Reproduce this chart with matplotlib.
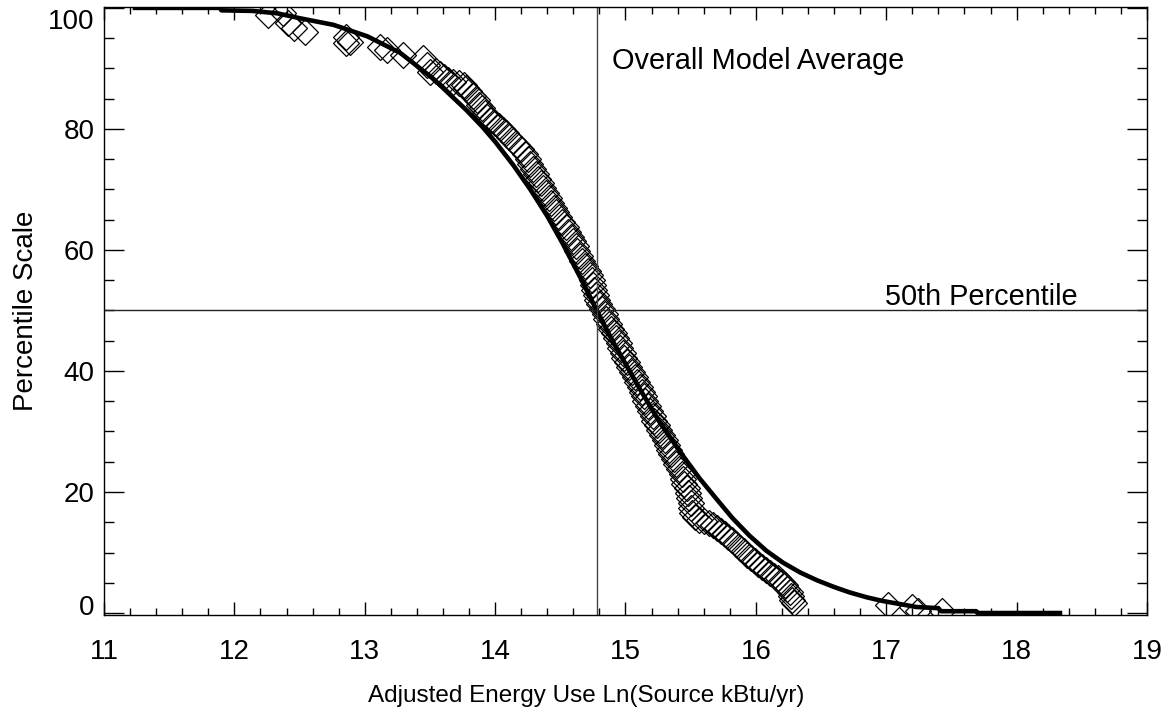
import matplotlib
matplotlib.use("Agg")
import matplotlib.pyplot as plt
import matplotlib.transforms as mtransforms
from matplotlib.ticker import MultipleLocator

plt.rcParams['font.family'] = ['Liberation Sans', 'DejaVu Sans']

# fitted percentile curve
curve_x = [11.22, 11.89, 11.90, 12.14, 12.33, 12.50, 12.76, 13.02, 13.27, 13.52,
           13.78, 13.90, 14.00, 14.14, 14.27, 14.40, 14.52, 14.65, 14.78, 14.90,
           15.01, 15.13, 15.26, 15.44, 15.57, 15.70, 15.82, 15.95, 16.08, 16.21,
           16.34, 16.47, 16.60, 16.72, 16.85, 16.97, 17.10, 17.23, 17.40, 17.42,
           17.69, 17.70, 18.35]
curve_y = [100.0, 100.0, 99.6, 99.5, 99.1, 98.3, 97.2, 95.3, 92.6, 88.4,
           83.1, 80.4, 77.9, 74.0, 70.0, 65.6, 61.0, 55.6, 50.0, 45.0,
           40.8, 36.3, 31.6, 26.0, 22.2, 18.8, 15.7, 12.8, 10.3, 8.3,
           6.7, 5.4, 4.3, 3.4, 2.6, 2.0, 1.5, 1.0, 0.8, 0.3,
           0.3, 0.0, 0.0]

# observed buildings (diamonds)
obs_x = [12.26, 12.37, 12.41, 12.46, 12.54, 12.86, 12.86, 12.89, 13.12, 13.17,
         13.29, 13.45, 13.48, 13.50,
         13.55, 13.58, 13.61, 13.64, 13.68, 13.72, 13.76, 13.78, 13.80,
         13.83, 13.86, 13.88, 13.90, 13.92, 13.94, 13.97,
         14.00, 14.03, 14.06, 14.08, 14.11,
         14.14, 14.17, 14.20, 14.23, 14.25,
         14.27, 14.29, 14.31, 14.33, 14.35,
         14.37, 14.39, 14.41, 14.43, 14.45, 14.47,
         14.49, 14.51, 14.54, 14.56, 14.58, 14.60, 14.62, 14.63,
         14.65, 14.67, 14.69, 14.71, 14.73,
         14.74, 14.75, 14.76, 14.77, 14.78, 14.80, 14.82, 14.84,
         14.85, 14.87, 14.89, 14.91, 14.93, 14.95, 14.96,
         14.98, 14.99, 15.01, 15.03, 15.05,
         15.07, 15.09, 15.11, 15.13,
         15.14, 15.15, 15.17, 15.19,
         15.21, 15.22, 15.24, 15.26,
         15.28, 15.30, 15.32, 15.33,
         15.35, 15.37, 15.39, 15.41,
         15.43, 15.44, 15.45, 15.47, 15.48,
         15.49, 15.50, 15.50, 15.51, 15.53,
         15.56, 15.60, 15.64, 15.67, 15.70,
         15.73, 15.76, 15.79, 15.82,
         15.85, 15.88,
         15.91, 15.93, 15.96,
         15.99, 16.02, 16.05,
         16.08, 16.11, 16.14, 16.17,
         16.20, 16.22, 16.24,
         16.26, 16.27, 16.28, 16.29,
         17.01, 17.20, 17.24, 17.43]
obs_y = [98.8, 99.2, 97.5, 96.7, 96.0, 95.2, 94.2, 94.4, 93.6, 93.1,
         92.2, 91.7, 90.6, 89.4,
         89.6, 89.0, 88.5, 88.1, 87.8, 87.6, 87.3, 86.8, 86.2,
         85.4, 84.8, 84.0, 83.4, 82.7, 81.9, 81.4,
         81.0, 80.5, 79.9, 79.3, 78.6,
         78.0, 77.3, 76.6, 75.8, 75.0,
         74.2, 73.4, 72.6, 71.8, 71.0,
         70.2, 69.4, 68.6, 67.8, 67.0, 66.2,
         65.4, 64.6, 63.8, 63.0, 62.2, 61.4, 60.6, 59.8,
         59.0, 58.2, 57.4, 56.6, 55.8,
         55.0, 54.2, 53.4, 52.6, 51.8, 51.0, 50.2, 49.4,
         48.6, 47.8, 47.0, 46.2, 45.4, 44.6, 43.8,
         43.0, 42.2, 41.4, 40.6, 39.8,
         39.0, 38.2, 37.4, 36.6,
         35.8, 35.0, 34.2, 33.4,
         32.6, 31.8, 31.0, 30.2,
         29.4, 28.6, 27.8, 27.0,
         26.2, 25.4, 24.6, 23.8,
         23.0, 22.2, 21.4, 20.6, 19.8,
         19.0, 18.2, 17.4, 16.6, 15.8,
         15.4, 15.2, 14.8, 14.5, 14.1,
         13.6, 13.1, 12.6, 12.0,
         11.4, 10.8,
         10.2, 9.6, 9.1,
         8.6, 8.1, 7.6,
         7.1, 6.6, 6.2, 5.8,
         5.2, 4.6, 4.0,
         3.4, 2.8, 2.2, 1.6,
         1.3, 1.0, 0.4, 0.3]

model_avg = 14.78
median_pct = 50

fig = plt.figure(figsize=(11.71, 7.11), dpi=100)
ax = fig.add_axes([0.0888, 0.135, 0.8907, 0.8556])

ax.plot(obs_x, obs_y, linestyle='none', marker='D', markersize=13.5,
        markerfacecolor='none', markeredgecolor='black', markeredgewidth=0.9)
ax.plot(curve_x, curve_y, color='black', linewidth=3.3, solid_capstyle='butt')

ax.axvline(model_avg, color='#444444', linewidth=1.0)
ax.axhline(median_pct, color='#222222', linewidth=1.0)

ax.text(14.90, 89.9, 'Overall Model Average', fontsize=20.8, va='baseline', ha='left')
ax.text(18.47, 50.9, '50th Percentile', fontsize=20.8, va='baseline', ha='right')

ax.set_xlim(11, 19)
ax.set_ylim(-0.33, 100.2)
ax.xaxis.set_major_locator(MultipleLocator(1))
ax.xaxis.set_minor_locator(MultipleLocator(0.2))
ax.yaxis.set_major_locator(MultipleLocator(20))
ax.yaxis.set_minor_locator(MultipleLocator(5))

ax.tick_params(axis='both', which='both', direction='in', top=True, right=True,
               width=1.0, labelsize=20)
ax.tick_params(axis='x', which='major', length=9.5, pad=17)
ax.tick_params(axis='x', which='minor', length=5)
ax.tick_params(axis='y', which='major', length=14.5, pad=7)
ax.tick_params(axis='y', which='minor', length=7.2)
for s in ax.spines.values():
    s.set_linewidth(1.0)

# end labels sit inside the frame, like the original
fig.canvas.draw()
for lab in ax.get_yticklabels():
    txt = lab.get_text()
    if txt == '100':
        lab.set_transform(lab.get_transform() + mtransforms.ScaledTranslation(0, -8 / 72, fig.dpi_scale_trans))
    elif txt == '0':
        lab.set_transform(lab.get_transform() + mtransforms.ScaledTranslation(0, 6 / 72, fig.dpi_scale_trans))

ax.set_xlabel('Adjusted Energy Use Ln(Source kBtu/yr)', fontsize=17.5, labelpad=12)
ax.xaxis.set_label_coords(0.462, -0.115)
ax.set_ylabel('Percentile Scale', fontsize=20, labelpad=6)

fig.savefig('out.png', dpi=100)
